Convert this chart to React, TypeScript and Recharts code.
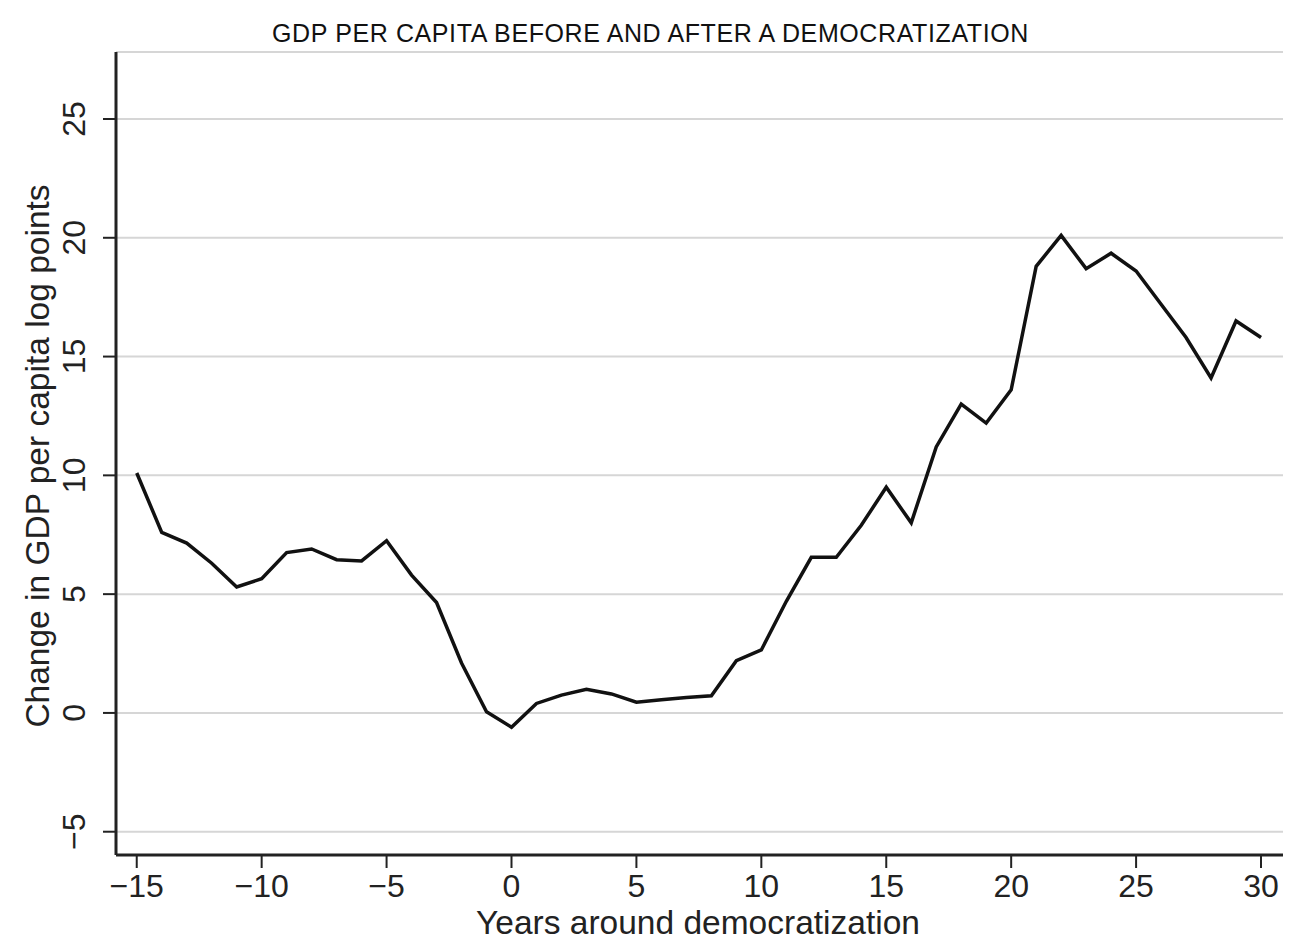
import React from 'react';
import { LineChart, Line, XAxis, YAxis, CartesianGrid } from 'recharts';

const years = [-15,-14,-13,-12,-11,-10,-9,-8,-7,-6,-5,-4,-3,-2,-1,0,1,2,3,4,5,6,7,8,9,10,11,12,13,14,15,16,17,18,19,20,21,22,23,24,25,26,27,28,29,30];
const gdpChange = [10.1,7.6,7.15,6.3,5.3,5.65,6.75,6.9,6.45,6.4,7.25,5.8,4.65,2.1,0.05,-0.6,0.4,0.75,1.0,0.8,0.45,0.55,0.65,0.72,2.2,2.65,4.7,6.55,6.55,7.9,9.5,8.0,11.2,13.0,12.2,13.6,18.8,20.1,18.7,19.35,18.6,17.2,15.8,14.1,16.5,15.8];
const xTicks = [-15,-10,-5,0,5,10,15,20,25,30];
const yTicks = [-5,0,5,10,15,20,25];

const data = years.map((y, i) => ({ year: y, value: gdpChange[i] }));

const FONT = 'Liberation Sans, Arial, Helvetica, sans-serif';

const fmt = (v: number) => (v < 0 ? '\u2212' + Math.abs(v) : String(v));

const YTick = (props: any) => {
  const { x, y, payload } = props;
  const cx = x - 27;
  return (
    <text
      x={cx}
      y={y}
      transform={`rotate(-90 ${cx} ${y})`}
      textAnchor="middle"
      dominantBaseline="central"
      fontSize={32}
      fontFamily={FONT}
      fill="#222"
    >
      {fmt(payload.value)}
    </text>
  );
};

const XTick = (props: any) => {
  const { x, y, payload } = props;
  return (
    <text
      x={x}
      y={y + 27}
      textAnchor="middle"
      fontSize={32}
      fontFamily={FONT}
      fill="#222"
    >
      {fmt(payload.value)}
    </text>
  );
};

export default function App() {
  return (
    <div style={{ position: 'absolute', left: 0, top: 0, width: 1301, height: 945, background: '#fff' }}>
      <div
        style={{
          position: 'absolute',
          left: 0,
          width: 1301,
          top: 18,
          height: 30,
          lineHeight: '30px',
          textAlign: 'center',
          fontFamily: FONT,
          fontSize: 25,
          letterSpacing: 0.6,
          color: '#111',
        }}
      >
        GDP PER CAPITA BEFORE AND AFTER A DEMOCRATIZATION
      </div>
      <LineChart
        width={1301}
        height={945}
        data={data}
        margin={{ top: 52, right: 18, left: 36, bottom: 30 }}
      >
        <CartesianGrid horizontal vertical={false} stroke="#d6d6d6" strokeWidth={2} />
        <XAxis
          dataKey="year"
          type="number"
          domain={[-15.83, 30.88]}
          ticks={xTicks}
          allowDataOverflow
          height={60}
          tick={<XTick />}
          tickSize={13}
          stroke="#222"
          tickLine={{ stroke: '#222', strokeWidth: 2 }}
          axisLine={{ stroke: '#222', strokeWidth: 3 }}
        />
        <YAxis
          type="number"
          domain={[-5.98, 27.82]}
          ticks={yTicks}
          allowDataOverflow
          width={80}
          tick={<YTick />}
          tickSize={13}
          stroke="#222"
          tickLine={{ stroke: '#222', strokeWidth: 2 }}
          axisLine={{ stroke: '#222', strokeWidth: 3 }}
        />
        <Line
          type="linear"
          dataKey="value"
          stroke="#111"
          strokeWidth={3.5}
          dot={false}
          isAnimationActive={false}
        />
      </LineChart>
      <div
        style={{
          position: 'absolute',
          left: 698 - 300,
          width: 600,
          top: 903,
          height: 40,
          lineHeight: '40px',
          textAlign: 'center',
          fontFamily: FONT,
          fontSize: 33.5,
          color: '#222',
        }}
      >
        Years around democratization
      </div>
      <div
        style={{
          position: 'absolute',
          left: 37.5 - 300,
          top: 456 - 20,
          width: 600,
          height: 40,
          lineHeight: '40px',
          textAlign: 'center',
          fontFamily: FONT,
          fontSize: 33.5,
          color: '#222',
          transform: 'rotate(-90deg)',
          transformOrigin: '300px 20px',
        }}
      >
        Change in GDP per capita log points
      </div>
    </div>
  );
}
